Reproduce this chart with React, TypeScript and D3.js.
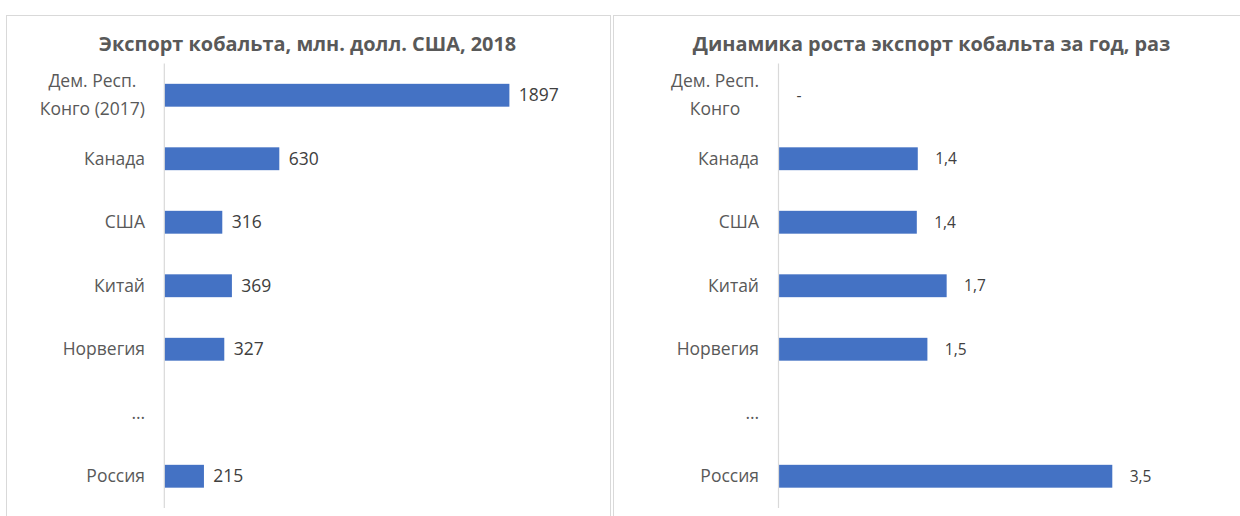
import React, { useEffect, useRef } from "react";
import * as d3 from "d3";

const leftTitle = "Экспорт кобальта, млн. долл. США, 2018";
const rightTitle = "Динамика роста экспорт кобальта за год, раз";
const leftCategories = ["Дем. Респ.\nКонго (2017)", "Канада", "США", "Китай", "Норвегия", "…", "Россия"];
const rightCategories = ["Дем. Респ.\nКонго", "Канада", "США", "Китай", "Норвегия", "…", "Россия"];
const exportValues: (number | null)[] = [1897, 630, 316, 369, 327, null, 215];
const growthValues: (number | null)[] = [0, 1.44, 1.43, 1.74, 1.54, null, 3.46];

const W = 1240;
const H = 516;
const BAR = "#4472C4";
const TEXT = "#595959";
const VAL = "#404040";
const FONT = "'Open Sans', 'Noto Sans', sans-serif";

type PanelCfg = {
  title: string;
  cats: string[];
  values: (number | null)[];
  domainMax: number;
  x0: number;
  x1: number;
  titleX: number;
  labelRight: number;
  gap: number;
  valSize: number;
  fmt: (v: number) => string;
};

export default function App() {
  const ref = useRef<SVGSVGElement>(null);
  useEffect(() => {
    const svg = d3.select(ref.current);
    svg.selectAll("*").remove();
    svg.append("rect").attr("width", W).attr("height", H).attr("fill", "#fff");

    svg.append("rect").attr("x", 6.5).attr("y", 15.5).attr("width", 604).attr("height", 520)
      .attr("fill", "none").attr("stroke", "#d9d9d9");
    svg.append("rect").attr("x", 613.5).attr("y", 15.5).attr("width", 640).attr("height", 520)
      .attr("fill", "none").attr("stroke", "#d9d9d9");

    const panels: PanelCfg[] = [
      {
        title: leftTitle, cats: leftCategories, values: exportValues, domainMax: 2000,
        x0: 164.3, x1: 527.5, titleX: 307.5, labelRight: 145, gap: 10, valSize: 17.5,
        fmt: (v) => d3.format("d")(v),
      },
      {
        title: rightTitle, cats: rightCategories, values: growthValues, domainMax: 4,
        x0: 778.5, x1: 1163.7, titleX: 931.5, labelRight: 759, gap: 18, valSize: 15.5,
        fmt: (v) => (v === 0 ? "-" : v.toFixed(1).replace(".", ",")),
      },
    ];

    panels.forEach((p) => {
      const g = svg.append("g");
      const x = d3.scaleLinear().domain([0, p.domainMax]).range([p.x0, p.x1]);
      const y = d3.scaleBand<number>().domain(d3.range(p.cats.length)).range([63.5, 508]).paddingInner(0.64).paddingOuter(0.32);

      g.append("text").attr("x", p.titleX).attr("y", 51).attr("text-anchor", "middle")
        .attr("font-family", FONT).attr("font-weight", "bold").attr("font-size", 19.9)
        .attr("fill", TEXT).text(p.title);

      g.append("line").attr("x1", x(0)).attr("x2", x(0)).attr("y1", 63.5).attr("y2", 508)
        .attr("stroke", "#d9d9d9").attr("stroke-width", 1.2);

      p.values.forEach((v, i) => {
        const cy = y(i)! + y.bandwidth() / 2;
        if (v !== null && v > 0) {
          g.append("rect").attr("x", x(0) + 0.6).attr("y", y(i)!).attr("width", x(v) - x(0))
            .attr("height", y.bandwidth()).attr("fill", BAR);
        }
        if (v !== null) {
          g.append("text").attr("x", x(v) + p.gap).attr("y", cy).attr("dy", "0.35em")
            .attr("font-family", FONT).attr("font-size", p.valSize).attr("fill", VAL)
            .text(p.fmt(v));
        }
      });

      p.cats.forEach((c, i) => {
        const cy = y(i)! + y.bandwidth() / 2;
        const lines = c.split("\n");
        const t = g.append("text").attr("font-family", FONT).attr("font-size", 17.5)
          .attr("fill", TEXT);
        const lh = 28;
        lines.forEach((ln, j) => {
          t.append("tspan").attr("y", cy + (j - (lines.length - 1) / 2) * lh).attr("dy", "0.35em").text(ln);
        });
        if (lines.length > 1) {
          const node = t.node() as SVGTextElement;
          const widths = Array.from(node.querySelectorAll("tspan")).map((s) => (s as SVGTextContentElement).getComputedTextLength());
          const maxW = Math.max(...widths);
          t.attr("text-anchor", "middle");
          t.selectAll("tspan").attr("x", p.labelRight - maxW / 2);
        } else {
          t.attr("text-anchor", "end");
          t.selectAll("tspan").attr("x", p.labelRight);
        }
      });
    });
  }, []);
  return (
    <svg ref={ref} width={W} height={H} style={{ position: "absolute", left: 0, top: 0, display: "block" }} />
  );
}
